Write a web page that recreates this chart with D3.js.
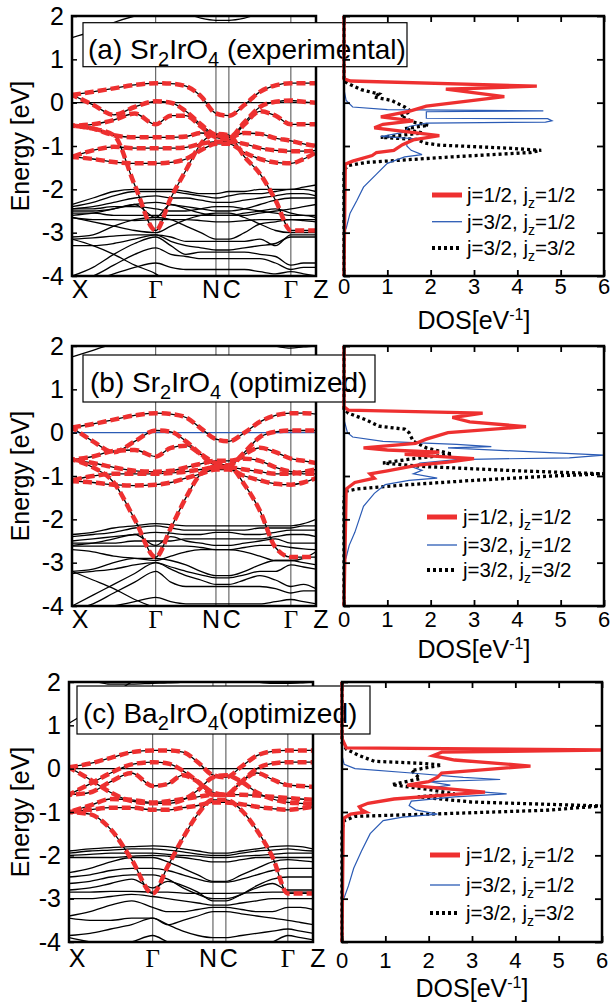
<!DOCTYPE html>
<html>
<head>
<meta charset="utf-8">
<script src="https://cdn.jsdelivr.net/npm/d3@7"></script>
<style>
  body { margin: 0; background: #fff; }
  svg { display: block; font-family: "Liberation Sans", Arial, sans-serif; }
</style>
</head>
<body>
<div id="chart"></div>
<script>
// k-path sample positions (fraction of path) and symmetry points
var kPath = [0, 0.086, 0.171, 0.257, 0.343, 0.405, 0.467, 0.528, 0.59, 0.643, 0.707, 0.77, 0.834, 0.897, 0.949, 1];
var kSym = [0, 0.343, 0.59, 0.643, 0.897, 1];
var kSymLabels = ["X", "Γ", "N", "C", "Γ", "Z"];
var energyTicks = [-4, -3, -2, -1, 0, 1, 2];
var dosTicks = [0, 1, 2, 3, 4, 5, 6];
var legendLabels = ["j=1/2, j|z|=1/2", "j=3/2, j|z|=1/2", "j=3/2, j|z|=3/2"];

/***** (a) Sr2IrO4 experimental *****/
var redBandsA = [
  [0.18, 0.25, 0.33, 0.41, 0.45, 0.44, 0.38, 0.15, -0.25, -0.3, -0.05, 0.25, 0.4, 0.45, 0.45, 0.45],
  [0.18, -0.05, -0.28, -0.1, 0.03, 0.0, -0.2, -0.5, -0.75, -0.8, -0.45, -0.1, 0.02, 0.05, 0.02, 0.0],
  [-0.53, -0.5, -0.4, -0.25, -0.5, -0.3, -0.3, -0.55, -0.8, -0.85, -0.5, -0.2, -0.3, -0.5, -0.5, -0.5],
  [-0.53, -0.6, -0.75, -0.8, -0.8, -0.8, -0.78, -0.7, -0.75, -0.8, -0.7, -0.72, -0.82, -0.88, -0.95, -1.0],
  [-1.25, -1.1, -1.02, -1.05, -1.05, -1.05, -1.03, -0.95, -0.9, -0.9, -0.95, -1.05, -1.1, -1.12, -1.12, -1.1],
  [-1.25, -1.3, -1.37, -1.4, -1.4, -1.38, -1.3, -1.1, -0.95, -0.95, -1.15, -1.3, -1.38, -1.4, -1.3, -1.15],
  [-0.53, -0.6, -0.75, -1.9, -2.95, -2.2, -1.56, -0.95, -0.72, -0.75, -1.25, -1.64, -2.25, -2.95, -2.95, -2.95]
];
var blackBandsA = [
  [-2.35, -2.2, -2.05, -2.0, -2.0, -2.0, -2.05, -2.1, -2.1, -2.05, -2.05, -2.0, -2.0, -2.0, -1.95, -1.9],
  [-2.4, -2.3, -2.15, -2.05, -2.05, -2.05, -2.1, -2.15, -2.2, -2.15, -2.1, -2.1, -2.05, -2.0, -2.0, -2.05],
  [-2.45, -2.4, -2.3, -2.2, -2.15, -2.2, -2.2, -2.25, -2.3, -2.3, -2.25, -2.2, -2.15, -2.1, -2.1, -2.15],
  [-2.5, -2.5, -2.45, -2.35, -2.3, -2.35, -2.4, -2.45, -2.5, -2.5, -2.45, -2.35, -2.25, -2.2, -2.2, -2.2],
  [-2.45, -2.45, -2.4, -2.4, -2.45, -2.5, -2.5, -2.45, -2.4, -2.4, -2.45, -2.5, -2.55, -2.6, -2.6, -2.65],
  [-2.55, -2.55, -2.6, -2.6, -2.6, -2.6, -2.6, -2.6, -2.6, -2.6, -2.6, -2.55, -2.5, -2.45, -2.4, -2.35],
  [-2.6, -2.55, -2.45, -2.35, -2.65, -2.35, -2.45, -2.55, -2.6, -2.6, -2.55, -2.5, -2.45, -2.55, -2.6, -2.6],
  [-2.65, -2.7, -2.7, -2.72, -2.7, -2.7, -2.7, -2.72, -2.75, -2.75, -2.72, -2.7, -2.7, -2.7, -2.72, -2.75],
  [-2.65, -2.75, -2.85, -2.95, -3.0, -2.85, -2.7, -2.6, -2.55, -2.55, -2.65, -2.8, -2.95, -3.0, -3.0, -3.0],
  [-3.1, -3.05, -2.85, -2.7, -2.65, -2.7, -2.85, -3.0, -3.15, -3.15, -3.0, -2.8, -2.75, -2.7, -2.7, -2.7],
  [-3.15, -3.12, -3.08, -3.05, -3.05, -3.1, -3.2, -3.2, -3.2, -3.2, -3.2, -3.15, -3.3, -3.05, -3.05, -3.05],
  [-3.3, -3.3, -3.25, -3.15, -3.05, -3.2, -3.3, -3.35, -3.4, -3.4, -3.35, -3.3, -3.25, -3.1, -3.1, -3.1],
  [-4.0, -3.8, -3.5, -3.25, -3.1, -3.3, -3.5, -3.45, -3.45, -3.45, -3.45, -3.5, -3.55, -3.75, -3.7, -3.7],
  [-4.1, -4.0, -3.75, -3.5, -3.35, -3.5, -3.55, -3.6, -3.6, -3.6, -3.6, -3.6, -3.7, -3.85, -3.8, -3.8],
  [-4.2, -4.1, -3.95, -3.8, -3.7, -3.8, -3.85, -3.85, -3.85, -3.85, -3.85, -3.9, -3.95, -3.9, -3.95, -4.0],
  [-3.15, -3.3, -3.5, -3.75, -3.95, -4.2, -4.3, -4.3, -4.3, -4.3, -4.3, -4.3, -4.3, -4.2, -4.1, -4.0],
  [1.5, 1.65, 1.85, 2.0, 2.1, 2.1, 2.05, 1.95, 1.9, 1.9, 1.95, 2.05, 2.1, 2.15, 2.15, 2.15]
];
// DOS: [energy, dos]
var dosA_j12 = [[2,0],[0.55,0],[0.5,0.15],[0.38,4.45],[0.31,2.35],[0.14,3.7],[-0.08,1.9],[-0.2,1.5],[-0.33,0.85],[-0.42,1.6],[-0.5,0.9],[-0.58,0.7],[-0.76,2.2],[-0.86,1.6],[-0.97,1.35],[-1.1,1.15],[-1.15,0.75],[-1.22,0.65],[-1.35,0.2],[-1.42,0.03],[-4,0]];
var dosA_j32a = [[2,0],[0.3,0],[0.05,0.05],[-0.1,0.2],[-0.16,1.0],[-0.19,4.6],[-0.21,1.9],[-0.36,1.9],[-0.37,4.7],[-0.42,4.8],[-0.45,4.65],[-0.47,1.9],[-0.55,1.5],[-0.68,1.4],[-0.78,0.85],[-0.83,1.6],[-0.92,1.45],[-1.0,1.45],[-1.1,1.55],[-1.2,1.8],[-1.25,1.4],[-1.4,1.0],[-1.65,0.75],[-1.95,0.45],[-2.25,0.3],[-2.55,0.14],[-2.9,0.05],[-3.0,0]];
var dosA_j32b = [[2,0],[0.5,0],[0.44,0.1],[0.3,0.4],[0.2,0.8],[0.13,0.7],[0.05,1.1],[-0.1,1.4],[-0.2,1.55],[-0.3,1.3],[-0.45,1.6],[-0.52,1.95],[-0.6,1.4],[-0.7,1.8],[-0.8,0.85],[-0.85,1.7],[-0.93,1.85],[-0.98,2.2],[-1.05,3.8],[-1.1,4.55],[-1.15,4.3],[-1.25,2.5],[-1.38,0.5],[-1.45,0.1],[-1.55,0],[-4,0]];

/***** (b) Sr2IrO4 optimized *****/
var redBandsB = [
  [0.12, 0.2, 0.3, 0.4, 0.45, 0.43, 0.35, 0.1, -0.15, -0.2, 0.0, 0.25, 0.4, 0.45, 0.45, 0.43],
  [0.12, -0.2, -0.45, -0.2, 0.05, 0.02, -0.2, -0.5, -0.75, -0.75, -0.45, -0.1, 0.02, 0.05, 0.05, 0.05],
  [-0.62, -0.55, -0.42, -0.4, -0.55, -0.35, -0.3, -0.5, -0.7, -0.75, -0.5, -0.35, -0.45, -0.6, -0.65, -0.7],
  [-0.62, -0.7, -0.8, -0.88, -0.9, -0.88, -0.8, -0.72, -0.65, -0.65, -0.6, -0.65, -0.8, -0.9, -0.95, -0.95],
  [-1.1, -1.0, -0.95, -0.95, -0.95, -0.93, -0.9, -0.85, -0.8, -0.8, -0.85, -0.9, -0.95, -0.95, -0.9, -0.85],
  [-1.12, -1.15, -1.2, -1.22, -1.2, -1.15, -1.05, -0.95, -0.85, -0.85, -1.0, -1.1, -1.18, -1.2, -1.15, -1.05],
  [-0.62, -0.8, -1.15, -2.0, -2.87, -2.2, -1.5, -0.95, -0.78, -0.78, -1.2, -1.8, -2.65, -2.87, -2.87, -2.87]
];
var blackBandsB = [
  [-2.35, -2.3, -2.2, -2.15, -2.1, -2.12, -2.15, -2.15, -2.15, -2.15, -2.15, -2.15, -2.15, -2.15, -2.1, -2.0],
  [-2.4, -2.35, -2.3, -2.2, -2.15, -2.2, -2.25, -2.25, -2.25, -2.25, -2.25, -2.2, -2.2, -2.2, -2.15, -2.15],
  [-2.5, -2.45, -2.4, -2.35, -2.3, -2.32, -2.35, -2.35, -2.3, -2.3, -2.35, -2.35, -2.3, -2.25, -2.25, -2.25],
  [-2.55, -2.55, -2.55, -2.5, -2.5, -2.5, -2.45, -2.45, -2.45, -2.45, -2.45, -2.45, -2.4, -2.35, -2.35, -2.4],
  [-2.6, -2.55, -2.45, -2.35, -2.6, -2.4, -2.5, -2.55, -2.6, -2.6, -2.55, -2.5, -2.45, -2.55, -2.55, -2.55],
  [-2.62, -2.62, -2.62, -2.62, -2.62, -2.62, -2.62, -2.65, -2.7, -2.7, -2.65, -2.6, -2.6, -2.65, -2.68, -2.7],
  [-2.7, -2.75, -2.85, -2.9, -2.95, -2.85, -2.75, -2.7, -2.7, -2.7, -2.75, -2.85, -2.95, -2.95, -2.9, -2.75],
  [-3.2, -3.15, -3.0, -2.9, -2.9, -2.95, -3.05, -3.2, -3.3, -3.3, -3.2, -3.05, -2.95, -2.95, -3.0, -3.05],
  [-3.25, -3.2, -3.15, -3.05, -3.0, -3.1, -3.2, -3.28, -3.35, -3.35, -3.28, -3.2, -3.2, -3.05, -3.1, -3.15],
  [-4.0, -3.75, -3.5, -3.25, -3.0, -3.15, -3.3, -3.4, -3.5, -3.5, -3.4, -3.3, -3.4, -3.55, -3.5, -3.6],
  [-4.1, -3.95, -3.7, -3.45, -3.2, -3.45, -3.55, -3.55, -3.55, -3.55, -3.55, -3.55, -3.6, -3.7, -3.65, -3.65],
  [-4.2, -4.1, -4.0, -3.9, -3.8, -3.9, -3.95, -3.95, -3.95, -3.95, -3.95, -3.95, -3.9, -3.85, -3.9, -3.95],
  [-3.2, -3.4, -3.6, -3.85, -4.05, -4.2, -4.3, -4.3, -4.3, -4.3, -4.3, -4.3, -4.3, -4.2, -4.1, -4.0],
  [1.75, 1.9, 2.05, 2.1, 2.0, 2.05, 2.1, 2.2, 2.3, 2.3, 2.2, 2.1, 2.0, 1.95, 1.98, 2.0]
];
var dosB_j12 = [[2,0],[0.6,0],[0.52,0.1],[0.45,3.2],[0.35,2.5],[0.25,2.9],[0.14,4.2],[0.0,2.4],[-0.15,1.9],[-0.25,1.65],[-0.35,0.45],[-0.4,1.0],[-0.45,2.2],[-0.5,1.4],[-0.6,3.0],[-0.68,2.4],[-0.75,1.7],[-0.88,1.0],[-0.95,0.6],[-1.05,0.7],[-1.15,0.25],[-1.3,0.05],[-4,0]];
var dosB_j32a = [[2,0],[0.3,0],[0.0,0.08],[-0.1,0.2],[-0.2,0.9],[-0.27,2.6],[-0.32,3.4],[-0.35,2.4],[-0.45,4.5],[-0.52,6.0],[-0.58,5.2],[-0.62,2.6],[-0.7,1.75],[-0.8,1.6],[-0.87,1.8],[-0.95,1.6],[-1.05,2.15],[-1.1,1.5],[-1.2,0.95],[-1.4,0.7],[-1.7,0.45],[-2.0,0.35],[-2.3,0.25],[-2.6,0.12],[-2.88,0.05],[-3,0]];
var dosB_j32b = [[2,0],[0.55,0],[0.45,0.1],[0.3,0.5],[0.15,0.8],[0.08,1.4],[0.0,1.5],[-0.2,1.6],[-0.35,1.9],[-0.5,2.5],[-0.6,1.6],[-0.7,0.9],[-0.78,1.8],[-0.88,4.0],[-0.95,6.0],[-1.0,4.8],[-1.1,3.0],[-1.2,1.5],[-1.3,0.3],[-1.35,0.05],[-1.5,0],[-4,0]];

/***** (c) Ba2IrO4 optimized *****/
var redBandsC = [
  [0.03, 0.12, 0.25, 0.38, 0.42, 0.42, 0.38, 0.15, -0.15, -0.2, 0.05, 0.3, 0.4, 0.42, 0.42, 0.42],
  [-0.6, -0.35, -0.1, 0.1, 0.15, 0.12, -0.05, -0.3, -0.6, -0.6, -0.3, 0.0, 0.12, 0.15, 0.15, 0.15],
  [-0.6, -0.55, -0.3, -0.1, -0.4, -0.35, -0.15, -0.3, -0.55, -0.6, -0.3, -0.1, -0.25, -0.38, -0.4, -0.42],
  [-1.0, -0.85, -0.7, -0.72, -0.78, -0.75, -0.7, -0.65, -0.6, -0.6, -0.6, -0.62, -0.65, -0.68, -0.7, -0.72],
  [-1.0, -0.95, -0.9, -0.9, -0.95, -0.95, -0.9, -0.85, -0.78, -0.78, -0.82, -0.88, -0.92, -0.95, -0.92, -0.88],
  [0.03, -0.25, -0.55, -0.75, -0.8, -0.8, -0.72, -0.5, -0.2, -0.15, -0.3, -0.55, -0.7, -0.78, -0.8, -0.82],
  [-1.0, -1.05, -1.4, -2.1, -2.88, -2.25, -1.6, -1.05, -0.72, -0.72, -0.96, -1.42, -2.04, -2.88, -2.88, -2.88]
];
var blackBandsC = [
  [-1.9, -1.85, -1.82, -1.8, -1.78, -1.8, -1.85, -1.9, -1.95, -1.95, -1.9, -1.85, -1.8, -1.78, -1.8, -1.85],
  [-1.95, -1.9, -1.88, -1.85, -1.85, -1.88, -1.92, -1.97, -2.0, -2.0, -1.95, -1.9, -1.88, -1.85, -1.88, -1.9],
  [-2.0, -1.98, -1.95, -1.95, -1.95, -1.98, -2.0, -2.02, -2.05, -2.05, -2.02, -2.0, -1.98, -1.95, -1.95, -1.95],
  [-2.05, -2.05, -2.05, -2.02, -2.0, -2.02, -2.05, -2.1, -2.15, -2.15, -2.1, -2.05, -2.05, -2.05, -2.05, -2.05],
  [-2.4, -2.3, -2.15, -2.05, -2.05, -2.15, -2.3, -2.45, -2.6, -2.6, -2.45, -2.3, -2.15, -2.1, -2.12, -2.15],
  [-2.5, -2.45, -2.35, -2.3, -2.3, -2.35, -2.45, -2.55, -2.62, -2.62, -2.55, -2.45, -2.35, -2.3, -2.3, -2.3],
  [-2.65, -2.6, -2.5, -2.45, -2.45, -2.55, -2.75, -2.9, -3.0, -3.0, -2.9, -2.7, -2.55, -2.5, -2.5, -2.5],
  [-2.8, -2.75, -2.65, -2.55, -2.75, -2.6, -2.7, -2.85, -3.05, -3.05, -2.9, -2.75, -2.65, -2.8, -2.8, -2.8],
  [-2.85, -2.85, -2.83, -2.83, -2.85, -2.85, -2.87, -2.88, -2.88, -2.88, -2.87, -2.86, -2.85, -2.85, -2.85, -2.85],
  [-3.0, -3.0, -2.95, -2.9, -2.95, -3.0, -3.05, -3.1, -3.15, -3.15, -3.1, -3.05, -3.0, -3.0, -3.0, -3.0],
  [-3.4, -3.3, -3.15, -3.05, -3.2, -3.3, -3.3, -3.25, -3.2, -3.2, -3.25, -3.3, -3.3, -3.2, -3.2, -3.25],
  [-3.45, -3.5, -3.5, -3.45, -3.45, -3.6, -3.5, -3.4, -3.3, -3.3, -3.35, -3.4, -3.45, -3.5, -3.55, -3.6],
  [-3.85, -3.8, -3.7, -3.6, -3.45, -3.6, -3.75, -3.85, -3.9, -3.9, -3.85, -3.8, -3.75, -3.7, -3.75, -3.8],
  [-3.9, -4.0, -4.1, -4.0, -3.85, -4.0, -4.1, -4.2, -4.2, -4.2, -4.2, -4.1, -4.0, -3.85, -3.9, -3.95],
  [1.05, 1.35, 1.7, 2.0, 2.3, 2.4, 2.4, 2.4, 2.4, 2.4, 2.4, 2.4, 2.4, 2.3, 2.3, 2.3],
  [2.2, 2.05, 1.95, 1.95, 1.97, 1.98, 2.0, 2.05, 2.1, 2.1, 2.05, 2.0, 1.97, 1.97, 1.98, 2.0]
];
var dosC_j12 = [[2,0],[0.7,0],[0.48,0.1],[0.43,6.3],[0.38,2.3],[0.3,2.1],[0.2,2.6],[0.06,4.35],[-0.1,2.3],[-0.2,2.2],[-0.3,2.0],[-0.38,1.5],[-0.46,2.4],[-0.54,3.3],[-0.6,2.5],[-0.7,1.2],[-0.8,0.6],[-0.88,0.4],[-0.95,0.45],[-1.0,0.55],[-1.05,0.2],[-1.15,0.03],[-4,0]];
var dosC_j32a = [[2,0],[0.3,0],[0.1,0.05],[0.0,0.3],[-0.1,1.6],[-0.2,2.8],[-0.25,3.65],[-0.3,2.0],[-0.38,2.5],[-0.45,2.0],[-0.52,3.0],[-0.58,3.8],[-0.65,2.6],[-0.75,1.6],[-0.85,1.55],[-0.95,1.7],[-1.05,2.2],[-1.12,1.4],[-1.2,0.95],[-1.5,0.65],[-1.9,0.45],[-2.3,0.27],[-2.7,0.15],[-2.98,0.05],[-3.05,0]];
var dosC_j32b = [[2,0],[0.6,0],[0.45,0.1],[0.3,0.4],[0.17,0.75],[0.12,1.9],[0.08,2.3],[-0.04,1.6],[-0.23,1.8],[-0.37,1.15],[-0.48,2.0],[-0.58,2.6],[-0.65,1.75],[-0.77,3.0],[-0.86,6.0],[-0.96,4.7],[-1.04,2.3],[-1.1,0.3],[-1.2,0.05],[-1.4,0],[-4,0]];

var RED = "#ee3030", BLUE = "#2b5bb5";

/***** Panel geometry (layout only) *****/
var panels = [
  { id: "a", title: [["(a) Sr"], ["2", 1], ["IrO"], ["4", 1], [" (experimental)"]],
    red: redBandsA, black: blackBandsA, dos: [dosA_j12, dosA_j32a, dosA_j32b], fermi: "#000",
    bx0: 72, bx1: 316, dx0: 344, dx1: 604, y0: 16, y1: 276,
    box: [83, 22.7, 324, 44], titleX: 88, titleY: 59,
    legY: [195, 221.7, 248], legX: [432, 462, 467],
    kLabY: 298, dosTickY: 294, dosLabY: 329 },
  { id: "b", title: [["(b) Sr"], ["2", 1], ["IrO"], ["4", 1], [" (optimized)"]],
    red: redBandsB, black: blackBandsB, dos: [dosB_j12, dosB_j32a, dosB_j32b], fermi: BLUE,
    bx0: 72, bx1: 316, dx0: 344, dx1: 604, y0: 346, y1: 606,
    box: [83, 355, 292, 47], titleX: 90, titleY: 392,
    legY: [517, 545, 570], legX: [427, 457, 463],
    kLabY: 628, dosTickY: 627, dosLabY: 658 },
  { id: "c", title: [["(c) Ba"], ["2", 1], ["IrO"], ["4", 1], ["(optimized)"]],
    red: redBandsC, black: blackBandsC, dos: [dosC_j12, dosC_j32a, dosC_j32b], fermi: "#000",
    bx0: 69, bx1: 313, dx0: 342, dx1: 602, y0: 682, y1: 942,
    box: [77, 686, 293, 48], titleX: 83, titleY: 723,
    legY: [855, 885, 913], legX: [430, 460, 466],
    kLabY: 967, dosTickY: 968, dosLabY: 997 }
];
var kLabelShift = [8, 0, -5, 3, 0, 5];
var dosStyles = [
  { color: RED, width: 3.3, dash: null },
  { color: BLUE, width: 1.2, dash: null },
  { color: "#000", width: 3.3, dash: "3,3" }
];

var svg = d3.select("#chart").append("svg")
  .attr("width", 610).attr("height", 1002);

function drawPanel(p) {
  var y = d3.scaleLinear().domain([-4, 2]).range([p.y1, p.y0]);
  var xk = d3.scaleLinear().domain([0, 1]).range([p.bx0, p.bx1]);
  var xd = d3.scaleLinear().domain([0, 6]).range([p.dx0, p.dx1]);

  var defs = svg.append("defs");
  defs.append("clipPath").attr("id", "clipB" + p.id).append("rect")
    .attr("x", p.bx0).attr("y", p.y0).attr("width", p.bx1 - p.bx0).attr("height", p.y1 - p.y0);
  defs.append("clipPath").attr("id", "clipD" + p.id).append("rect")
    .attr("x", p.dx0 - 3).attr("y", p.y0).attr("width", p.dx1 - p.dx0 + 3).attr("height", p.y1 - p.y0);

  /***** band structure *****/
  var gb = svg.append("g").attr("clip-path", "url(#clipB" + p.id + ")");

  gb.selectAll(".kline").data(kSym.slice(1, 5)).enter().append("line")
    .attr("x1", function (d) { return xk(d); }).attr("x2", function (d) { return xk(d); })
    .attr("y1", p.y0).attr("y2", p.y1)
    .attr("stroke", "#4a4a4a").attr("stroke-width", 1);

  gb.append("line")
    .attr("x1", p.bx0).attr("x2", p.bx1).attr("y1", y(0)).attr("y2", y(0))
    .attr("stroke", p.fermi).attr("stroke-width", 1.2);

  var bandLine = d3.line()
    .x(function (d, i) { return xk(kPath[i]); })
    .y(function (d) { return y(d); })
    .curve(d3.curveMonotoneX);

  gb.selectAll(".bb").data(p.black.concat(p.red)).enter().append("path")
    .attr("d", bandLine).attr("fill", "none")
    .attr("stroke", "#000").attr("stroke-width", 1.3);

  gb.selectAll(".rb").data(p.red).enter().append("path")
    .attr("d", bandLine).attr("fill", "none")
    .attr("stroke", RED).attr("stroke-width", 4.5)
    .attr("stroke-dasharray", "9,4")
    .attr("stroke-dashoffset", function (d, i) { return i * 3; });

  svg.append("rect")
    .attr("x", p.bx0).attr("y", p.y0).attr("width", p.bx1 - p.bx0).attr("height", p.y1 - p.y0)
    .attr("fill", "none").attr("stroke", "#000").attr("stroke-width", 2.5);

  var yAxis = svg.append("g")
    .attr("transform", "translate(" + p.bx0 + ",0)")
    .call(d3.axisLeft(y).tickValues(energyTicks).tickSize(-5).tickPadding(8)
      .tickFormat(function (d) { return String(d); }));
  yAxis.select(".domain").remove();
  yAxis.selectAll(".tick line").attr("stroke-width", 1.5);
  yAxis.selectAll("text").attr("font-size", 25).attr("font-family", "Liberation Sans, Arial, sans-serif")
    .attr("fill", "#000");

  svg.selectAll(".klab" + p.id).data(kSymLabels).enter().append("text")
    .attr("x", function (d, i) { return xk(kSym[i]) + kLabelShift[i]; })
    .attr("y", p.kLabY)
    .attr("text-anchor", "middle")
    .attr("font-size", 25)
    .attr("font-family", function (d) { return d === "Γ" ? "Liberation Serif, Times New Roman, serif" : null; })
    .text(function (d) { return d; });

  svg.append("text")
    .attr("transform", "translate(29," + ((p.y0 + p.y1) / 2) + ") rotate(-90)")
    .attr("text-anchor", "middle").attr("font-size", 25)
    .text("Energy [eV]");

  /***** title box *****/
  svg.append("rect")
    .attr("x", p.box[0]).attr("y", p.box[1]).attr("width", p.box[2]).attr("height", p.box[3])
    .attr("fill", "#fff").attr("stroke", "#000").attr("stroke-width", 1.2);
  var title = svg.append("text").attr("x", p.titleX).attr("y", p.titleY).attr("font-size", 28);
  p.title.forEach(function (part, i) {
    var t = title.append("tspan").text(part[0]);
    if (part[1]) t.attr("font-size", 20).attr("dy", 7);
    else if (i > 0 && p.title[i - 1][1]) t.attr("dy", -7);
  });

  /***** DOS *****/
  var gd = svg.append("g").attr("clip-path", "url(#clipD" + p.id + ")");
  var dosLine = d3.line()
    .x(function (d) { return xd(d[1]); })
    .y(function (d) { return y(d[0]); });

  // black dotted first, then blue, red on top
  [2, 1, 0].forEach(function (j) {
    var s = dosStyles[j];
    gd.append("path").datum(p.dos[j])
      .attr("d", dosLine).attr("fill", "none")
      .attr("stroke", s.color).attr("stroke-width", s.width)
      .attr("stroke-dasharray", s.dash)
      .attr("stroke-linejoin", "miter");
  });

  svg.append("rect")
    .attr("x", p.dx0).attr("y", p.y0).attr("width", p.dx1 - p.dx0).attr("height", p.y1 - p.y0)
    .attr("fill", "none").attr("stroke", "#000").attr("stroke-width", 2.5);

  var bx = svg.append("g").attr("transform", "translate(0," + p.y1 + ")")
    .call(d3.axisBottom(xd).tickValues(dosTicks).tickSize(-6).tickFormat(""));
  var tx = svg.append("g").attr("transform", "translate(0," + p.y0 + ")")
    .call(d3.axisTop(xd).tickValues(dosTicks).tickSize(-6).tickFormat(""));
  var ry = svg.append("g").attr("transform", "translate(" + p.dx1 + ",0)")
    .call(d3.axisRight(y).tickValues(energyTicks).tickSize(-7).tickFormat(""));
  var ly = svg.append("g").attr("transform", "translate(" + p.dx0 + ",0)")
    .call(d3.axisLeft(y).tickValues(energyTicks).tickSize(-6).tickFormat(""));
  [bx, tx, ry, ly].forEach(function (a) {
    a.select(".domain").remove();
    a.selectAll(".tick line").attr("stroke-width", 1.8);
  });

  svg.selectAll(".dtick" + p.id).data(dosTicks).enter().append("text")
    .attr("x", function (d) { return xd(d); })
    .attr("y", p.dosTickY)
    .attr("text-anchor", "middle").attr("font-size", 22)
    .text(function (d) { return d; });

  var dl = svg.append("text")
    .attr("x", (p.dx0 + p.dx1) / 2).attr("y", p.dosLabY)
    .attr("text-anchor", "middle").attr("font-size", 25);
  dl.append("tspan").text("DOS[eV");
  dl.append("tspan").text("-1").attr("font-size", 16).attr("dy", -9);
  dl.append("tspan").text("]").attr("dy", 9);

  /***** legend *****/
  legendLabels.forEach(function (lab, j) {
    var s = dosStyles[j];
    svg.append("line")
      .attr("x1", p.legX[0]).attr("x2", p.legX[1])
      .attr("y1", p.legY[j]).attr("y2", p.legY[j])
      .attr("stroke", s.color)
      .attr("stroke-width", j === 0 ? 5 : (j === 1 ? 1.3 : 4))
      .attr("stroke-dasharray", s.dash);
    var bits = lab.split("|");
    var t = svg.append("text").attr("x", p.legX[2]).attr("y", p.legY[j] + 7).attr("font-size", 20.5);
    t.append("tspan").text(bits[0]);
    t.append("tspan").text(bits[1]).attr("font-size", 14).attr("dy", 6);
    t.append("tspan").text(bits[2]).attr("dy", -6);
  });
}

panels.forEach(drawPanel);
</script>
</body>
</html>
